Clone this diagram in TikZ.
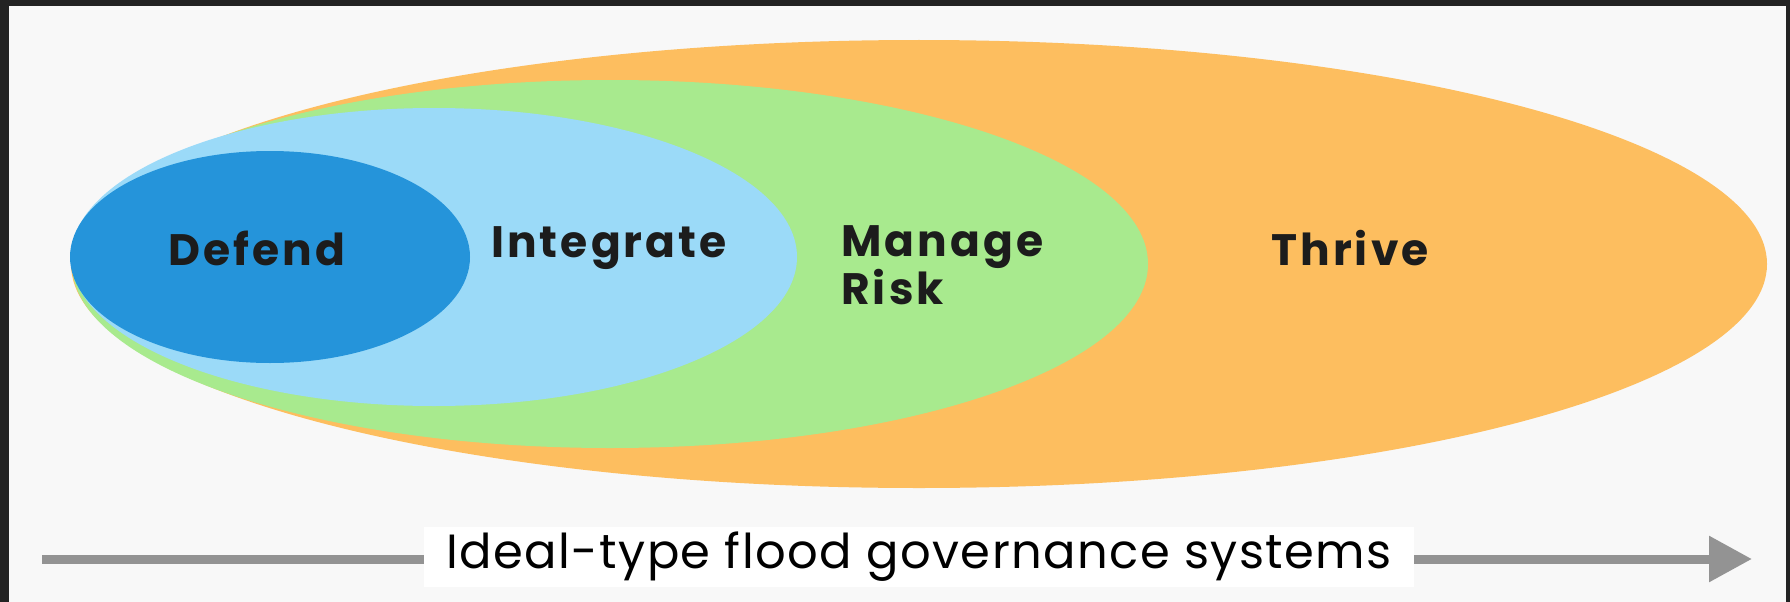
\documentclass[tikz,border=0pt]{standalone}
\usepackage{fontspec}
\setmainfont{Lato}
\newfontfamily\labelfont[LetterSpace=7]{Poppins}
\newfontfamily\axisfont[LetterSpace=3]{Poppins}
\usetikzlibrary{arrows.meta}
\definecolor{bgc}{HTML}{F8F8F8}
\definecolor{framec}{HTML}{232323}
\definecolor{orangec}{HTML}{FDBE5F}
\definecolor{greenc}{HTML}{A8EA8E}
\definecolor{lbluec}{HTML}{9BDAF8}
\definecolor{dbluec}{HTML}{2594DA}
\definecolor{textc}{HTML}{1C1C1C}
\definecolor{arrowc}{HTML}{939393}
\tikzset{
  zonelabel/.style={font=\labelfont\bfseries\fontsize{44}{46}\selectfont, text=textc, inner sep=0pt},
  axislabel/.style={font=\axisfont\fontsize{48}{52}\selectfont, text=black, fill=white, inner xsep=22pt, inner ysep=5pt},
  axisline/.style={draw=arrowc, line width=9pt, -{Triangle[length=43pt,width=44pt]}}
}
\begin{document}
\begin{tikzpicture}[x=1pt,y=-1pt]
\useasboundingbox (0,0) rectangle (1790,602);
\fill[bgc] (0,0) rectangle (1790,602);
\fill[framec] (0,0) rectangle (1790,6);
\fill[framec] (0,0) rectangle (9,602);
\fill[framec] (1786,0) rectangle (1790,602);
% nested ellipses
\fill[orangec] (919,264) ellipse [x radius=848, y radius=224];
\fill[greenc] (610,264) ellipse [x radius=538, y radius=184];
\fill[lbluec] (434,257) ellipse [x radius=363, y radius=149];
\fill[dbluec] (270,257) ellipse [x radius=200, y radius=106];
% labels
\node[zonelabel] (defend) at (257,248) {Defend};
\node[zonelabel] (integrate) at (609,248) {Integrate};
\node[zonelabel, anchor=west, align=left] (manage) at (841,265) {Manage\\Risk};
\node[zonelabel] (thrive) at (1350,248) {Thrive};
% axis
\coordinate (axstart) at (42,559);
\coordinate (axend) at (1752,559);
\draw[axisline] (axstart) -- (axend);
\node[axislabel] (axis) at (919,557) {Ideal-type flood governance systems};
\end{tikzpicture}
\end{document}
